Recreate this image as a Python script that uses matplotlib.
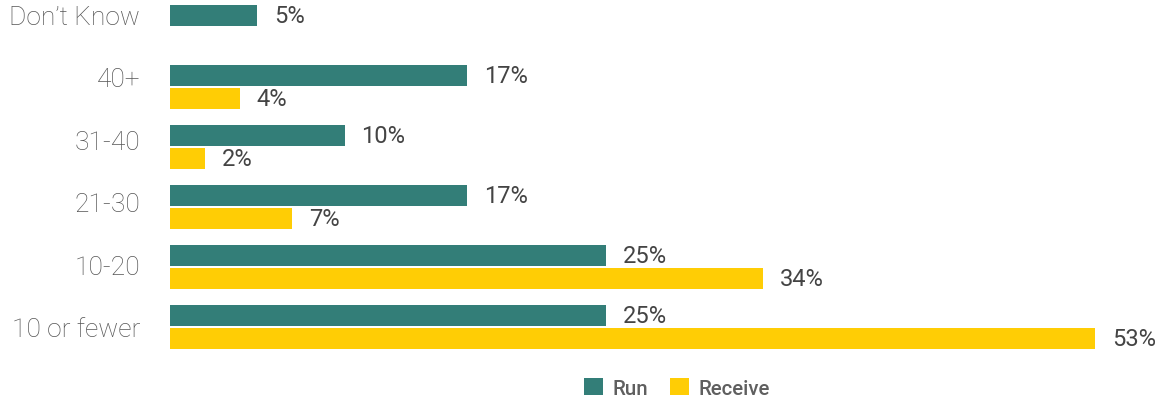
import matplotlib
matplotlib.use("Agg")
import matplotlib.pyplot as plt
from matplotlib.patches import Patch
from matplotlib.transforms import offset_copy

categories = ["10 or fewer", "10-20", "21-30", "31-40", "40+", "Don\u2019t Know"]
run_values = [25, 25, 17, 10, 17, 5]
receive_values = [53, 34, 7, 2, 4, None]
series_names = ["Run", "Receive"]

RUN_COLOR = "#337e78"
RECEIVE_COLOR = "#ffcd05"

plt.rcParams["font.family"] = ["Roboto", "DejaVu Sans"]

fig = plt.figure(figsize=(11.6, 4.02), dpi=100)
ax = fig.add_axes([170 / 1160, 42 / 402, 990 / 1160, 360 / 402])

bar_h = 0.35
off = 0.19
ys = list(range(len(categories)))

for y, rv, cv in zip(ys, run_values, receive_values):
    if cv is None:
        ax.barh(y + off, rv, height=bar_h, color=RUN_COLOR)
        label_targets = [(y + off, rv)]
    else:
        ax.barh(y + off, rv, height=bar_h, color=RUN_COLOR)
        ax.barh(y - off, cv, height=bar_h, color=RECEIVE_COLOR)
        label_targets = [(y + off, rv), (y - off, cv)]
    for yy, v in label_targets:
        tr = offset_copy(ax.transData, fig=fig, x=17, y=0, units="dots")
        ax.text(v, yy, f"{v}%", transform=tr, ha="left", va="center",
                fontsize=17, color="#444444", clip_on=False)

# category labels are spread a little wider than the bar groups
for i, (y, name) in enumerate(zip(ys, categories)):
    tr = offset_copy(ax.get_yaxis_transform(), fig=fig, x=-30, y=2.4 * i - 2, units="dots")
    ax.text(0, y, name, transform=tr, ha="right", va="center",
            fontsize=19, fontweight="light", color="#555555", clip_on=False)

ax.set_xlim(0, 990 / 17.45)
ax.set_ylim(-32 / 60, 5 + 28 / 60)
ax.set_xticks([])
ax.set_yticks([])
for s in ax.spines.values():
    s.set_visible(False)

handles = [Patch(facecolor=RUN_COLOR, edgecolor="none"),
           Patch(facecolor=RECEIVE_COLOR, edgecolor="none")]
leg = fig.legend(handles, series_names, loc="center", bbox_to_anchor=(677 / 1160, 1 - 389 / 402),
                 ncol=2, frameon=False, handlelength=0.92, handleheight=0.92,
                 handletextpad=0.45, columnspacing=1.1,
                 prop={"weight": "medium", "size": 14.8})
for t in leg.get_texts():
    t.set_color("#5f5f5f")

fig.savefig("out.png", dpi=100)
